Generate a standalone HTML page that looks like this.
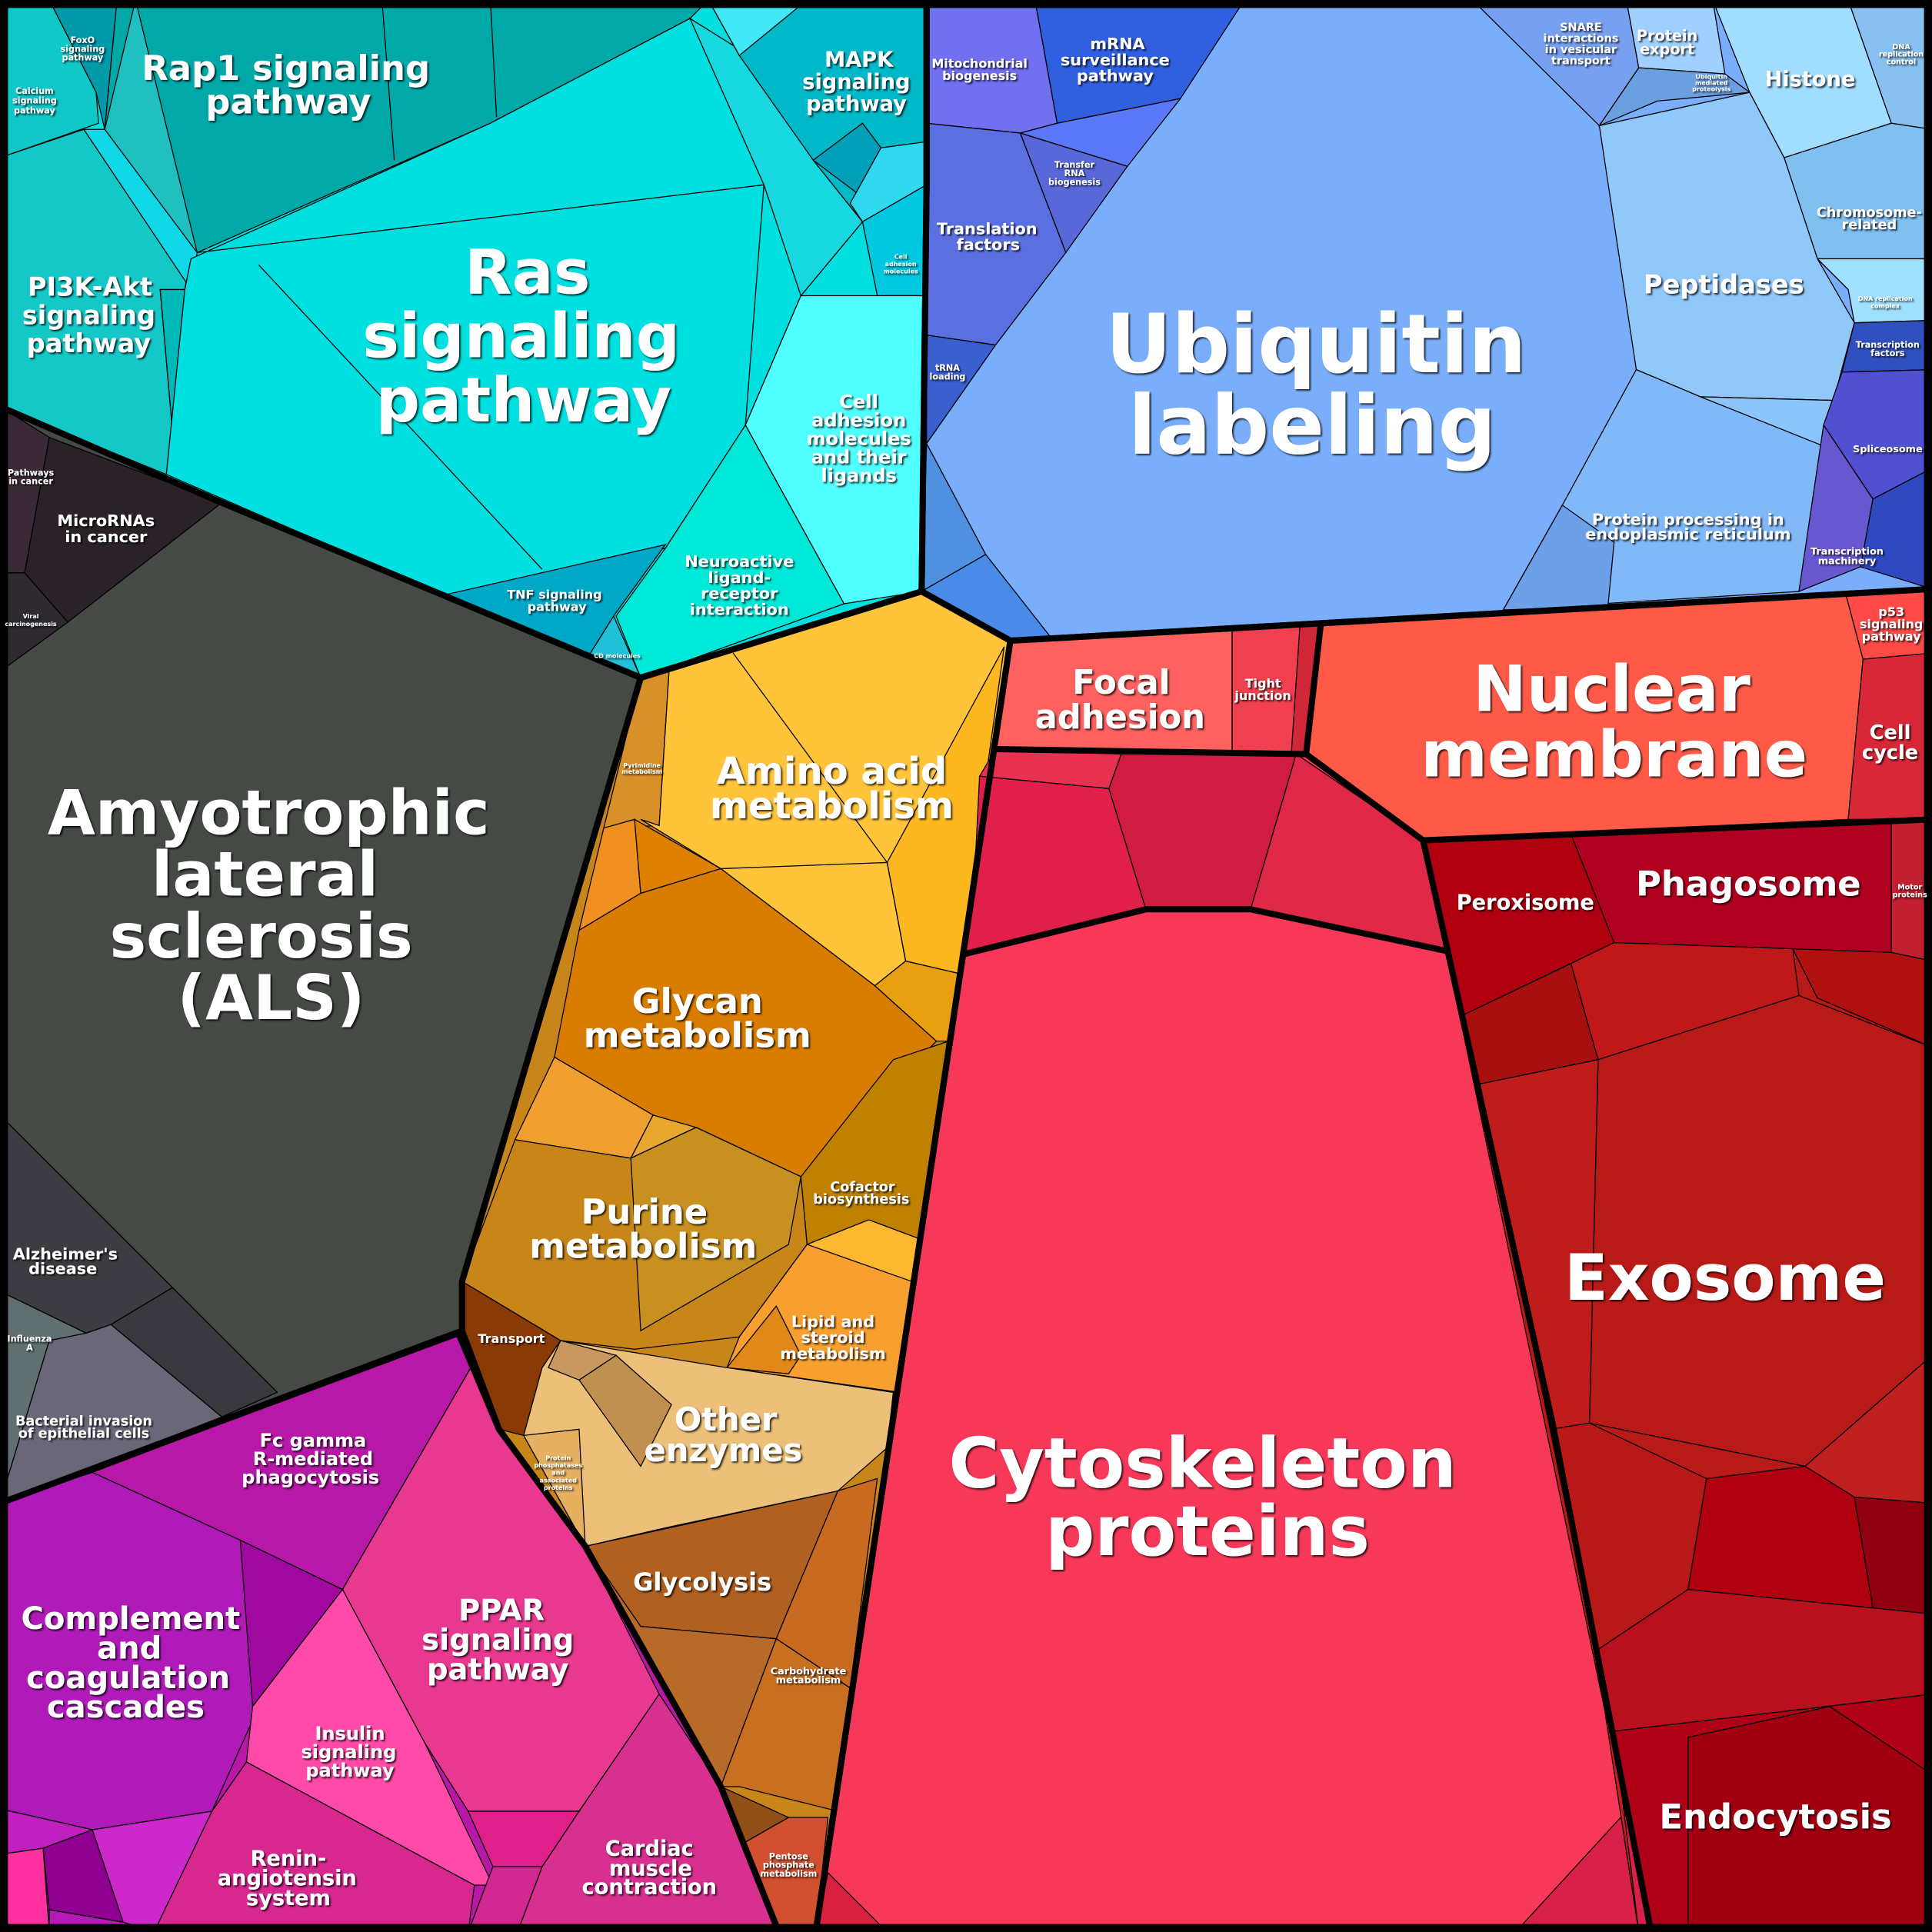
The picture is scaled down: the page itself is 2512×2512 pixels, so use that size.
<!DOCTYPE html>
<html><head><meta charset="utf-8"><style>
html,body{margin:0;padding:0;background:#000}
svg{display:block}
text{font-family:"DejaVu Sans","Liberation Sans",sans-serif;font-weight:bold;fill:#fff;text-anchor:middle;filter:url(#sh)}
.c polygon{stroke:#000;stroke-width:0.8}
.b{fill:none;stroke:#000;stroke-width:5;stroke-linejoin:round}
</style></head><body>
<svg width="2512" height="2512" viewBox="0 0 1568 1568" xmlns="http://www.w3.org/2000/svg">
<defs><filter id="sh" x="-20%" y="-20%" width="140%" height="140%"><feDropShadow dx="1.2" dy="1.2" stdDeviation="0.6" flood-color="#000" flood-opacity="0.8"/></filter></defs>
<rect width="1568" height="1568" fill="#000"/>
<g class="c">
<!-- CYAN -->
<polygon fill="#00e0e0" points="0,0 752,0 752,150 748,480 520,550 180,408 0,330"/>
<polygon fill="#009aa8" points="40,0 95,0 85,105 78,75"/>
<polygon fill="#10c8c8" points="0,0 40,0 78,75 80,100 0,128"/>
<polygon fill="#00a8a8" points="95,0 575,0 560,15 398,100 160,205 140,180 85,105"/>
<polygon fill="#20c0c0" points="85,105 110,0 160,205 140,180"/>
<polygon fill="#15c8c8" points="0,128 68,105 155,205 150,235 130,235 140,350 135,385 0,330"/>
<polygon fill="#10d8e8" points="68,105 85,105 160,205 155,235"/>
<polygon fill="#00b8b8" points="130,235 150,235 140,350"/>
<polygon fill="#00e0e0" points="155,210 398,100 560,15 625,140 700,180 650,240 605,345 540,445 360,483 135,385 150,235"/>
<polygon fill="#18d8e0" points="560,15 600,40 660,130 700,180 650,240 620,150"/>
<polygon fill="#00b8c8" points="575,0 752,0 752,115 700,180 660,130 600,45"/>
<polygon fill="#40e8f8" points="575,0 655,0 600,45"/>
<polygon fill="#00a0b8" points="660,130 700,100 715,120 700,160"/>
<polygon fill="#30d8f0" points="715,120 752,115 752,150 700,180 690,165"/>
<polygon fill="#00c8e0" points="700,180 752,150 752,240 712,240"/>
<polygon fill="#50ffff" points="650,240 752,240 752,480 748,480 685,490 605,345"/>
<polygon fill="#00e8d8" points="605,345 685,490 520,550 500,500 540,445"/>
<polygon fill="#00a8c8" points="360,483 540,442 498,500 478,532"/>
<polygon fill="#20c0d8" points="478,532 498,500 520,550"/>
<!-- DARK -->
<polygon fill="#454a45" points="0,330 180,408 520,550 375,1040 375,1080 0,1220"/>
<polygon fill="#3a2a38" points="0,330 40,355 20,465 0,465"/>
<polygon fill="#2a2228" points="40,355 180,408 55,505 20,465"/>
<polygon fill="#2e2a30" points="0,465 20,465 55,505 0,545"/>
<polygon fill="#3d3c42" points="0,905 140,1045 90,1075 70,1082 0,1048"/>
<polygon fill="#38383e" points="140,1045 225,1130 180,1150 90,1075"/>
<polygon fill="#607070" points="0,1048 70,1082 40,1088 0,1220"/>
<polygon fill="#6a6878" points="40,1088 70,1082 90,1075 180,1150 0,1220"/>
<!-- ORANGE -->
<polygon fill="#c8861a" points="520,550 748,480 820,520 662,1568 632,1568 585,1450 475,1255 405,1160 375,1080 375,1040"/>
<polygon fill="#d89028" points="520,550 543,545 535,670 490,672"/>
<polygon fill="#ffc43a" points="543,545 748,480 820,520 778,790 735,780 710,800 585,705 520,665 535,670"/>
<polygon fill="#fdb820" points="720,700 815,525 778,790 735,780"/>
<polygon fill="#f09020" points="490,672 515,665 520,725 470,755"/>
<polygon fill="#e08000" points="515,665 585,705 520,725"/>
<polygon fill="#d97d02" points="470,755 520,725 585,705 710,800 760,845 650,955 530,905 450,858"/>
<polygon fill="#e8a010" points="710,800 735,780 778,790 770,845 760,845"/>
<polygon fill="#c08000" points="650,955 725,860 770,845 745,1005 705,990 655,1010"/>
<polygon fill="#fbb830" points="655,1010 705,990 745,1005 740,1040 680,1025"/>
<polygon fill="#f0a030" points="450,858 530,905 512,940 418,925"/>
<polygon fill="#e8a830" points="530,905 565,915 512,940"/>
<polygon fill="#c8861a" points="418,925 512,940 565,915 650,955 655,1010 600,1085 515,1095 455,1088 375,1040"/>
<polygon fill="#c89020" points="565,915 650,955 640,1010 520,1080 512,940"/>
<polygon fill="#8a3a05" points="375,1040 455,1088 440,1110 425,1165 405,1160 375,1080"/>
<polygon fill="#f7a030" points="600,1085 655,1010 740,1040 730,1130 590,1110"/>
<polygon fill="#e08818" points="590,1110 630,1060 650,1100 640,1115"/>
<polygon fill="#ecc078" points="455,1088 590,1110 725,1130 720,1175 680,1210 540,1240 475,1255 425,1165 440,1110"/>
<polygon fill="#e5b060" points="425,1165 470,1160 475,1255"/>
<polygon fill="#c09050" points="470,1120 500,1100 545,1140 520,1190"/>
<polygon fill="#c89860" points="455,1088 500,1100 470,1120 445,1110"/>
<polygon fill="#b06020" points="475,1255 680,1210 630,1330 520,1320"/>
<polygon fill="#b86a28" points="475,1255 520,1320 630,1330 585,1450"/>
<polygon fill="#c86a20" points="680,1210 712,1200 690,1370 630,1330"/>
<polygon fill="#c87020" points="630,1330 690,1370 680,1470 600,1450 585,1450"/>
<polygon fill="#905018" points="585,1450 640,1475 605,1495"/>
<polygon fill="#d05030" points="605,1495 640,1475 672,1475 662,1568 632,1568"/>
<!-- BLUE -->
<polygon fill="#7aaefa" points="752,0 1568,0 1568,478 820,520 748,480 752,150"/>
<polygon fill="#7070f0" points="752,0 840,0 858,100 828,108 752,100"/>
<polygon fill="#3060e0" points="840,0 1010,0 958,80 858,100"/>
<polygon fill="#5a78f8" points="858,100 958,80 915,135 828,108"/>
<polygon fill="#5868d8" points="828,108 915,135 865,205"/>
<polygon fill="#5a70e0" points="752,100 828,108 865,205 808,280 752,272"/>
<polygon fill="#3a60d0" points="752,272 808,280 752,360"/>
<polygon fill="#5090e0" points="752,360 800,450 748,480"/>
<polygon fill="#4a8ae8" points="800,450 855,520 820,520 748,480"/>
<polygon fill="#78a0f0" points="1195,0 1320,0 1330,55 1298,102"/>
<polygon fill="#a0d0ff" points="1320,0 1390,0 1400,60 1330,55"/>
<polygon fill="#6aa0e0" points="1330,55 1400,60 1420,75 1345,82 1298,102"/>
<polygon fill="#a0ddff" points="1390,0 1500,0 1535,100 1448,128 1420,75"/>
<polygon fill="#88c0f0" points="1500,0 1568,0 1568,105 1535,100"/>
<polygon fill="#80c0f0" points="1448,128 1535,100 1568,105 1568,210 1500,235 1475,210"/>
<polygon fill="#a0e0ff" points="1475,210 1500,235 1505,262 1568,260 1568,210"/>
<polygon fill="#90c8fa" points="1298,102 1420,75 1448,128 1475,210 1505,262 1488,325 1380,322 1328,300"/>
<polygon fill="#80b8f8" points="1328,300 1380,322 1488,325 1480,370 1460,480 1220,495 1268,410"/>
<polygon fill="#8cc4fc" points="1380,322 1488,325 1480,362"/>
<polygon fill="#6ca0e8" points="1268,410 1310,440 1305,492 1220,495"/>
<polygon fill="#3050c0" points="1505,262 1568,260 1568,300 1495,302"/>
<polygon fill="#5050d0" points="1495,302 1568,300 1568,380 1520,405 1480,345"/>
<polygon fill="#3048c0" points="1520,405 1568,380 1568,478 1510,460"/>
<polygon fill="#6858d0" points="1480,345 1520,405 1510,460 1460,480"/>
<!-- RED -->
<polygon fill="#f83858" points="820,520 1568,478 1568,1568 662,1568"/>
<polygon fill="#ff6060" points="820,520 1000,512 1000,610 808,608"/>
<polygon fill="#f04050" points="1000,512 1055,508 1050,610 1000,610"/>
<polygon fill="#d02838" points="1055,508 1072,506 1060,612 1048,612"/>
<polygon fill="#ff5a48" points="1072,506 1498,482 1512,535 1500,665 1155,682 1060,612"/>
<polygon fill="#ff4a48" points="1498,482 1568,478 1568,530 1512,535"/>
<polygon fill="#d82838" points="1512,535 1568,530 1568,665 1500,665"/>
<polygon fill="#e83050" points="808,608 910,612 900,640 795,630"/>
<polygon fill="#e0204a" points="795,630 900,640 930,738 850,760 780,775 790,730"/>
<polygon fill="#d01c40" points="910,612 1052,612 1015,738 930,738 900,640"/>
<polygon fill="#e02848" points="1052,612 1155,682 1175,772 1015,738"/>
<polygon fill="#f83858" points="780,775 930,738 1015,738 1175,772 1260,1155 1340,1568 662,1568"/>
<polygon fill="#d82048" points="1230,1568 1340,1568 1320,1470"/>
<polygon fill="#d82040" points="662,1568 672,1520 720,1568"/>
<polygon fill="#b81a18" points="1155,682 1568,665 1568,1568 1340,1568"/>
<polygon fill="#b00010" points="1155,682 1275,677 1310,765 1185,825"/>
<polygon fill="#b00020" points="1275,677 1535,667 1535,773 1310,765"/>
<polygon fill="#c02030" points="1535,667 1568,665 1568,780 1535,773"/>
<polygon fill="#a81010" points="1185,825 1275,782 1297,860 1200,880"/>
<polygon fill="#c01818" points="1275,782 1310,765 1455,770 1460,808 1297,860"/>
<polygon fill="#b01010" points="1455,770 1535,773 1568,780 1568,850 1475,810"/>
<polygon fill="#b81a18" points="1297,860 1460,808 1568,850 1568,1100 1465,1190 1290,1155"/>
<polygon fill="#c01c1c" points="1200,880 1297,860 1290,1155 1258,1160"/>
<polygon fill="#b81818" points="1258,1160 1290,1155 1385,1200 1370,1290 1295,1340"/>
<polygon fill="#b00010" points="1385,1200 1465,1190 1505,1215 1520,1305 1370,1290"/>
<polygon fill="#c02020" points="1465,1190 1568,1100 1568,1220 1505,1215"/>
<polygon fill="#900010" points="1505,1215 1568,1220 1568,1310 1520,1305"/>
<polygon fill="#b8101c" points="1295,1340 1370,1290 1520,1305 1568,1310 1568,1375 1310,1405"/>
<polygon fill="#c02020" points="1295,1340 1310,1405 1330,1568"/>
<polygon fill="#b00018" points="1310,1405 1568,1375 1568,1568 1340,1568"/>
<polygon fill="#a00010" points="1370,1410 1485,1385 1568,1440 1568,1568 1370,1568 1370,1505"/>
<!-- MAGENTA -->
<polygon fill="#b818a8" points="0,1220 372,1082 405,1160 475,1255 585,1450 632,1568 0,1568"/>
<polygon fill="#ff20ff" points="355,1085 372,1082 385,1105"/>
<polygon fill="#b818a8" points="75,1195 372,1082 385,1105 278,1290 195,1250"/>
<polygon fill="#b01ab8" points="0,1220 75,1195 195,1250 210,1385 172,1470 75,1485 0,1468"/>
<polygon fill="#a008a0" points="195,1250 278,1290 205,1385"/>
<polygon fill="#e83890" points="278,1290 385,1105 405,1160 475,1255 535,1375 470,1470 380,1470 345,1415"/>
<polygon fill="#ff4aaa" points="205,1385 278,1290 345,1415 400,1530 385,1530 200,1430"/>
<polygon fill="#d82890" points="200,1430 385,1530 380,1568 125,1568 172,1470"/>
<polygon fill="#e0208a" points="380,1470 470,1470 440,1515 400,1515"/>
<polygon fill="#d83090" points="535,1375 585,1450 632,1568 420,1568 440,1515 470,1470"/>
<polygon fill="#d02890" points="400,1515 440,1515 420,1568 380,1568"/>
<polygon fill="#c020c0" points="0,1468 75,1485 35,1500 0,1505"/>
<polygon fill="#ff30a0" points="0,1505 35,1500 40,1568 0,1568"/>
<polygon fill="#900090" points="35,1500 75,1485 100,1560 40,1550"/>
<polygon fill="#cc28cc" points="75,1485 172,1470 125,1568 100,1560"/>
<polygon fill="#b818b8" points="40,1550 100,1560 125,1568 40,1568"/>
</g>
<g stroke="#000" stroke-width="0.8" fill="none">
<line x1="310" y1="0" x2="320" y2="130"/><line x1="398" y1="0" x2="403" y2="95"/>
<line x1="160" y1="205" x2="620" y2="150"/><line x1="210" y1="215" x2="440" y2="462"/>
<line x1="620" y1="150" x2="605" y2="345"/>
<line x1="585" y1="705" x2="720" y2="700"/><line x1="720" y1="700" x2="735" y2="780"/>
<line x1="595" y1="530" x2="720" y2="700"/>
<line x1="1000" y1="512" x2="1000" y2="610"/>
</g>
<g class="b">
<polygon points="0,0 752,0 752,150 748,480 520,550 180,408 0,330"/>
<polygon points="0,330 180,408 520,550 375,1040 375,1080 0,1220"/>
<polygon points="520,550 748,480 820,520 662,1568 632,1568 585,1450 475,1255 405,1160 375,1080 375,1040"/>
<polygon points="752,0 1568,0 1568,478 820,520 748,480 752,150"/>
<polygon points="820,520 1568,478 1568,1568 662,1568"/>
<polygon points="0,1220 372,1082 405,1160 475,1255 585,1450 632,1568 0,1568"/>
<polyline points="808,608 1060,612 1155,682 1568,665"/>
<polyline points="1060,612 1072,506"/>
<polyline points="780,775 930,738 1015,738 1175,772 1260,1155 1340,1568"/>
<polyline points="1155,682 1175,772"/>
</g>
<rect x="3" y="3" width="1562" height="1562" fill="none" stroke="#000" stroke-width="7"/>
<g>
<text x="428" y="238" font-size="50">Ras</text><text x="423" y="290" font-size="50">signaling</text><text x="425" y="342" font-size="50">pathway</text>
<text x="232" y="65" font-size="28">Rap1 signaling</text><text x="234" y="92" font-size="28">pathway</text>
<text x="73" y="240" font-size="21">PI3K-Akt</text><text x="72" y="263" font-size="21">signaling</text><text x="72" y="286" font-size="21">pathway</text>
<text x="697" y="54" font-size="17">MAPK</text><text x="695" y="72" font-size="17">signaling</text><text x="695" y="90" font-size="17">pathway</text>
<text x="67" y="35" font-size="7">FoxO</text><text x="67" y="42" font-size="7">signaling</text><text x="67" y="49" font-size="7">pathway</text>
<text x="28" y="76" font-size="7">Calcium</text><text x="28" y="84" font-size="7">signaling</text><text x="28" y="92" font-size="7">pathway</text>
<text x="697" y="331" font-size="15">Cell</text><text x="697" y="346" font-size="15">adhesion</text><text x="697" y="361" font-size="15">molecules</text><text x="697" y="376" font-size="15">and their</text><text x="697" y="391" font-size="15">ligands</text>
<text x="731" y="210" font-size="5">Cell</text><text x="731" y="216" font-size="5">adhesion</text><text x="731" y="222" font-size="5">molecules</text>
<text x="600" y="460" font-size="13">Neuroactive</text><text x="600" y="473" font-size="13">ligand-</text><text x="600" y="486" font-size="13">receptor</text><text x="600" y="499" font-size="13">interaction</text>
<text x="450" y="486" font-size="10">TNF signaling</text><text x="452" y="496" font-size="10">pathway</text>
<text x="501" y="534" font-size="5">CD molecules</text>
<text x="25" y="386" font-size="7">Pathways</text><text x="25" y="393" font-size="7">in cancer</text>
<text x="86" y="427" font-size="13">MicroRNAs</text><text x="86" y="440" font-size="13">in cancer</text>
<text x="25" y="502" font-size="5">Viral</text><text x="25" y="508" font-size="5">carcinogenesis</text>
<text x="218" y="677" font-size="50">Amyotrophic</text><text x="215" y="727" font-size="50">lateral</text><text x="212" y="777" font-size="50">sclerosis</text><text x="220" y="827" font-size="50">(ALS)</text>
<text x="53" y="1022" font-size="13">Alzheimer's</text><text x="51" y="1034" font-size="13">disease</text>
<text x="24" y="1089" font-size="7">Influenza</text><text x="24" y="1096" font-size="7">A</text>
<text x="68" y="1157" font-size="11">Bacterial invasion</text><text x="68" y="1167" font-size="11">of epithelial cells</text>
<text x="675" y="636" font-size="30">Amino acid</text><text x="675" y="664" font-size="30">metabolism</text>
<text x="521" y="623" font-size="5">Pyrimidine</text><text x="521" y="628" font-size="5">metabolism</text>
<text x="566" y="822" font-size="28">Glycan</text><text x="566" y="850" font-size="28">metabolism</text>
<text x="523" y="993" font-size="28">Purine</text><text x="522" y="1021" font-size="28">metabolism</text>
<text x="700" y="967" font-size="11">Cofactor</text><text x="699" y="977" font-size="11">biosynthesis</text>
<text x="676" y="1077" font-size="13">Lipid and</text><text x="676" y="1090" font-size="13">steroid</text><text x="676" y="1103" font-size="13">metabolism</text>
<text x="589" y="1161" font-size="26">Other</text><text x="587" y="1186" font-size="26">enzymes</text>
<text x="415" y="1090" font-size="10">Transport</text>
<text x="453" y="1185" font-size="5">Protein</text><text x="453" y="1191" font-size="5">phosphatases</text><text x="453" y="1197" font-size="5">and</text><text x="453" y="1203" font-size="5">associated</text><text x="453" y="1209" font-size="5">proteins</text>
<text x="570" y="1291" font-size="20">Glycolysis</text>
<text x="656" y="1359" font-size="8">Carbohydrate</text><text x="656" y="1366" font-size="8">metabolism</text>
<text x="640" y="1509" font-size="7">Pentose</text><text x="640" y="1516" font-size="7">phosphate</text><text x="640" y="1523" font-size="7">metabolism</text>
<text x="254" y="1174" font-size="15">Fc gamma</text><text x="254" y="1189" font-size="15">R-mediated</text><text x="252" y="1204" font-size="15">phagocytosis</text>
<text x="106" y="1322" font-size="25">Complement</text><text x="105" y="1346" font-size="25">and</text><text x="104" y="1370" font-size="25">coagulation</text><text x="102" y="1394" font-size="25">cascades</text>
<text x="407" y="1315" font-size="24">PPAR</text><text x="404" y="1339" font-size="24">signaling</text><text x="404" y="1363" font-size="24">pathway</text>
<text x="284" y="1412" font-size="15">Insulin</text><text x="283" y="1427" font-size="15">signaling</text><text x="284" y="1442" font-size="15">pathway</text>
<text x="234" y="1514" font-size="17">Renin-</text><text x="233" y="1530" font-size="17">angiotensin</text><text x="234" y="1546" font-size="17">system</text>
<text x="527" y="1506" font-size="17">Cardiac</text><text x="528" y="1522" font-size="17">muscle</text><text x="527" y="1537" font-size="17">contraction</text>
<text x="1068" y="302" font-size="66">Ubiquitin</text><text x="1065" y="368" font-size="66">labeling</text>
<text x="907" y="40" font-size="13">mRNA</text><text x="905" y="53" font-size="13">surveillance</text><text x="905" y="66" font-size="13">pathway</text>
<text x="795" y="55" font-size="10">Mitochondrial</text><text x="795" y="65" font-size="10">biogenesis</text>
<text x="872" y="136" font-size="7">Transfer</text><text x="872" y="143" font-size="7">RNA</text><text x="872" y="150" font-size="7">biogenesis</text>
<text x="801" y="190" font-size="13">Translation</text><text x="802" y="203" font-size="13">factors</text>
<text x="769" y="301" font-size="7">tRNA</text><text x="769" y="308" font-size="7">loading</text>
<text x="1283" y="25" font-size="9">SNARE</text><text x="1283" y="34" font-size="9">interactions</text><text x="1283" y="43" font-size="9">in vesicular</text><text x="1283" y="52" font-size="9">transport</text>
<text x="1353" y="33" font-size="12">Protein</text><text x="1353" y="44" font-size="12">export</text>
<text x="1389" y="64" font-size="5">Ubiquitin</text><text x="1389" y="69" font-size="5">mediated</text><text x="1389" y="74" font-size="5">proteolysis</text>
<text x="1469" y="70" font-size="17">Histone</text>
<text x="1543" y="40" font-size="6">DNA</text><text x="1543" y="46" font-size="6">replication</text><text x="1543" y="52" font-size="6">control</text>
<text x="1517" y="176" font-size="11">Chromosome-</text><text x="1517" y="186" font-size="11">related</text>
<text x="1530" y="244" font-size="5">DNA replication</text><text x="1530" y="250" font-size="5">complex</text>
<text x="1399" y="238" font-size="21">Peptidases</text>
<text x="1370" y="426" font-size="13">Protein processing in</text><text x="1370" y="438" font-size="13">endoplasmic reticulum</text>
<text x="1532" y="282" font-size="7">Transcription</text><text x="1532" y="289" font-size="7">factors</text>
<text x="1532" y="367" font-size="8">Spliceosome</text>
<text x="1499" y="450" font-size="8">Transcription</text><text x="1499" y="458" font-size="8">machinery</text>
<text x="910" y="563" font-size="27">Focal</text><text x="909" y="591" font-size="27">adhesion</text>
<text x="1025" y="558" font-size="10">Tight</text><text x="1025" y="568" font-size="10">junction</text>
<text x="1308" y="577" font-size="52">Nuclear</text><text x="1310" y="630" font-size="52">membrane</text>
<text x="1535" y="500" font-size="10">p53</text><text x="1535" y="510" font-size="10">signaling</text><text x="1535" y="520" font-size="10">pathway</text>
<text x="1534" y="600" font-size="16">Cell</text><text x="1534" y="616" font-size="16">cycle</text>
<text x="1238" y="738" font-size="17">Peroxisome</text>
<text x="1419" y="727" font-size="28">Phagosome</text>
<text x="1550" y="722" font-size="6">Motor</text><text x="1550" y="728" font-size="6">proteins</text>
<text x="1400" y="1055" font-size="52">Exosome</text>
<text x="976" y="1207" font-size="56">Cytoskeleton</text><text x="980" y="1262" font-size="56">proteins</text>
<text x="1441" y="1484" font-size="28">Endocytosis</text>
</g>
</svg>
</body></html>
